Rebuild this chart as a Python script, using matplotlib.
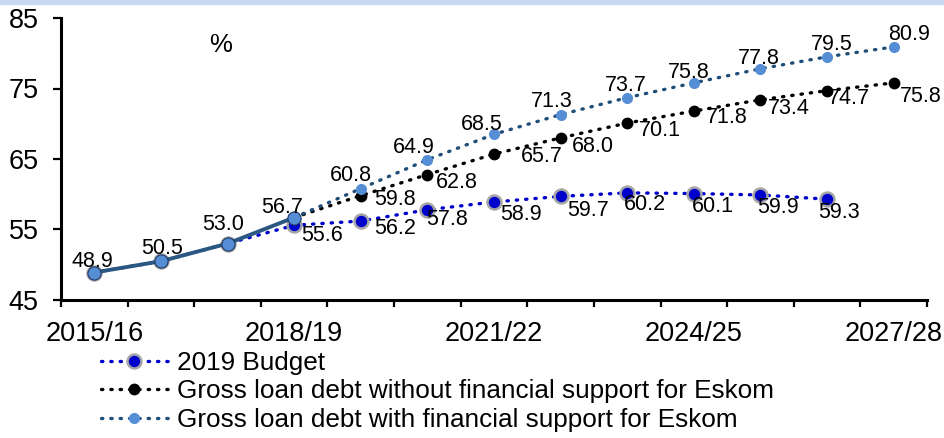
import numpy as np
import matplotlib.pyplot as plt
from matplotlib.patches import Rectangle

plt.rcParams['font.family'] = ['Liberation Sans', 'DejaVu Sans']

years = ['2015/16', '2016/17', '2017/18', '2018/19', '2019/20', '2020/21', '2021/22',
         '2022/23', '2023/24', '2024/25', '2025/26', '2026/27', '2027/28']
shown_years = ['2015/16', '2018/19', '2021/22', '2024/25', '2027/28']

outcome = [48.9, 50.5, 53.0, 56.7]
budget_2019 = [48.9, 50.5, 53.0, 55.6, 56.2, 57.8, 58.9, 59.7, 60.2, 60.1, 59.9, 59.3]
without_support = [56.7, 59.8, 62.8, 65.7, 68.0, 70.1, 71.8, 73.4, 74.7, 75.8]
with_support = [56.7, 60.8, 64.9, 68.5, 71.3, 73.7, 75.8, 77.8, 79.5, 80.9]

# label offsets in pixels (dx, dy)
outcome_off = [(-2, 11), (1, 13), (-4, 19), (-12, 10)]
budget_off = [(7, -10), (13, -7), (-1, -10), (6, -12), (7, -14), (-3, -12), (-2, -13), (-3, -13), (-9, -13)]
without_off = [(13, -4), (8, -8), (27, -2), (11, -9), (12, -7), (12, -6), (7, -9), (1, -8), (6, -14)]
with_off = [(-10, 13), (-14, 12), (-12, 10), (-9, 13), (-1, 12), (-5, 10), (-2, 10), (5, 12), (15, 12)]

x = np.arange(len(years))
x_budget = x[:len(budget_2019)]
x_fc = x[3:3 + len(without_support)]
x_out = x[:len(outcome)]

dark_blue = '#1F4E79'
light_blue = '#558ED5'
budget_blue = '#0000CC'
dots = (0, (0.4, 2.4))

fig = plt.figure(figsize=(9.44, 4.38), dpi=100)
fig.patches.append(Rectangle((0, 1 - 4 / 438), 1, 4 / 438, transform=fig.transFigure,
                             color='#C6D9F1', zorder=0))
ax = fig.add_axes([61 / 944, 1 - 300 / 438, 866 / 944, 282 / 438])

ax.plot(x_budget, budget_2019, linestyle=dots, dash_capstyle='round', lw=2.4, color=budget_blue,
        marker='o', ms=10, mfc=budget_blue, mec='#A6A6A6', mew=1.8, label='2019 Budget', zorder=2)
ax.plot(x_fc, without_support, linestyle=dots, dash_capstyle='round', lw=2.4, color='black',
        marker='o', ms=8.5, mfc='black', mec='black', mew=0,
        label='Gross loan debt without financial support for Eskom', zorder=3)
ax.plot(x_fc, with_support, linestyle=dots, dash_capstyle='round', lw=2.4, color=dark_blue,
        marker='o', ms=8, mfc=light_blue, mec=light_blue, mew=0,
        label='Gross loan debt with financial support for Eskom', zorder=4)
ax.plot(x_out, outcome, '-', lw=2.8, color='#2B5783', marker='o', ms=9.5, mfc=light_blue,
        mec='#1F3864', mew=0.8, zorder=5)

def add_labels(xs, vals, offs, ha):
    for xi, v, (dx, dy) in zip(xs, vals, offs):
        ax.annotate(f'{v:.1f}', (xi, v), xytext=(dx, dy), textcoords='offset pixels',
                    ha=ha, va='center', fontsize=15.5, zorder=6)

add_labels(x_out, outcome, outcome_off, 'center')
add_labels(x_budget[3:], budget_2019[3:], budget_off, 'left')
add_labels(x_fc[1:], without_support[1:], without_off, 'left')
add_labels(x_fc[1:], with_support[1:], with_off, 'center')

ax.text(0.184, 0.904, '%', transform=ax.transAxes, ha='center', va='center', fontsize=18.5)

ax.set_xlim(-0.5, len(years) - 0.5)
ax.set_ylim(45, 85)
ax.set_yticks([45, 55, 65, 75, 85])
ax.set_xticks([years.index(y) for y in shown_years])
ax.set_xticklabels(shown_years)
ax.set_xticks(np.arange(-0.5, len(years)), minor=True)
ax.tick_params(axis='x', which='major', length=0, pad=15, labelsize=19.5)
ax.tick_params(axis='x', which='minor', length=5, width=1.6)
ax.tick_params(axis='y', length=6, width=1.6, pad=10, labelsize=19.5)
for s in ['top', 'right']:
    ax.spines[s].set_visible(False)
for s in ['left', 'bottom']:
    ax.spines[s].set_linewidth(2.2)

fig.legend(loc='upper left', bbox_to_anchor=(101 / 944, 1 - 351 / 438), frameon=False,
           fontsize=18.8, handlelength=2.55, handletextpad=0.35, labelspacing=0.17,
           borderpad=0, borderaxespad=0)

fig.savefig('out.png', dpi=100)
